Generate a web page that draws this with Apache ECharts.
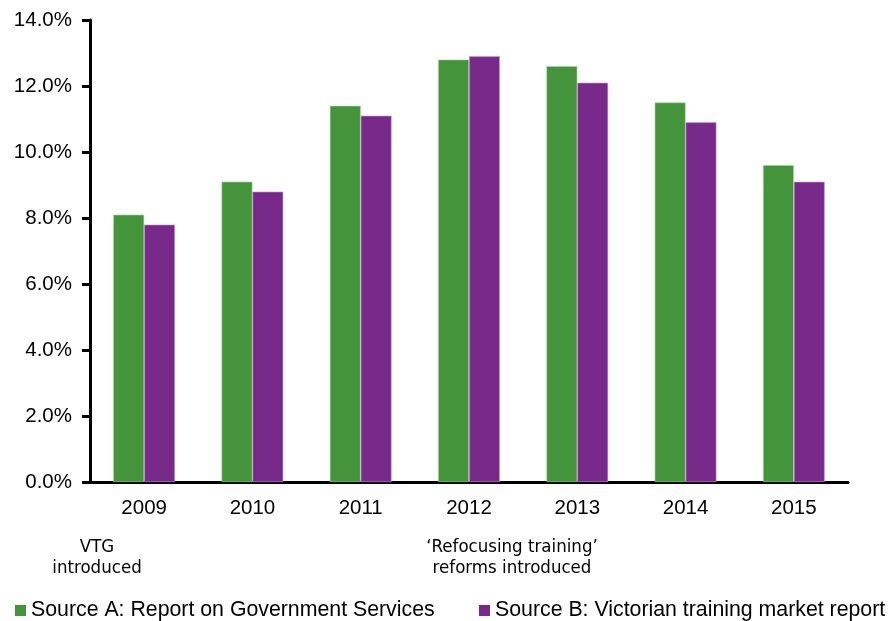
<!DOCTYPE html>
<html>
<head>
<meta charset="utf-8">
<script src="https://cdn.jsdelivr.net/npm/echarts@6/dist/echarts.min.js"></script>
<style>html,body{margin:0;padding:0;background:#fff}#c{width:889px;height:621px}</style>
</head>
<body>
<div id="c"></div>
<script>
const categories = ['2009','2010','2011','2012','2013','2014','2015'];
const sourceA = [8.1, 9.1, 11.4, 12.8, 12.6, 11.5, 9.6];
const sourceB = [7.8, 8.8, 11.1, 12.9, 12.1, 10.9, 9.1];
const seriesNames = ['Source A: Report on Government Services', 'Source B: Victorian training market report'];
const annotations = [
  {text: 'VTG\nintroduced', x: 97},
  {text: '\u2018Refocusing training\u2019\nreforms introduced', x: 512}
];
const legendLefts = [10, 474];

const chart = echarts.init(document.getElementById('c'));
chart.setOption({
  animation: false,
  textStyle: {fontFamily: 'Liberation Sans, Arial, sans-serif'},
  grid: {left: 90, right: 41, top: 20, bottom: 139, containLabel: false},
  legend: seriesNames.map((n, i) => ({
    data: [n],
    left: legendLefts[i], top: 595,
    icon: 'rect', itemWidth: 11, itemHeight: 11,
    itemStyle: {borderWidth: 0},
    textStyle: {fontSize: 21.3, color: '#000', fontFamily: 'Liberation Sans, Arial, sans-serif'}
  })),
  xAxis: {
    type: 'category', data: categories,
    axisLine: {lineStyle: {color: '#000', width: 3}},
    axisTick: {show: false},
    axisLabel: {fontSize: 20.5, color: '#000', margin: 16}
  },
  yAxis: {
    type: 'value', min: 0, max: 14, interval: 2,
    splitLine: {show: false},
    axisLine: {show: true, lineStyle: {color: '#000', width: 3}},
    axisTick: {show: true, length: 8, lineStyle: {color: '#000', width: 3}},
    axisLabel: {fontSize: 20.5, color: '#000', margin: 18, formatter: v => v.toFixed(1) + '%'}
  },
  series: [
    {name: seriesNames[0], type: 'bar', data: sourceA, barWidth: '28.5%', barGap: '0%',
     itemStyle: {color: '#43943a', borderColor: '#a9d3a3', borderWidth: 0.6}},
    {name: seriesNames[1], type: 'bar', data: sourceB, barWidth: '28.5%', barGap: '0%',
     itemStyle: {color: '#772a8a', borderColor: '#c9a3d3', borderWidth: 0.6}}
  ],
  graphic: annotations.map(a => ({
    type: 'text', x: a.x, y: 537,
    style: {text: a.text, x: 0, y: 0, align: 'center', textAlign: 'center', fontSize: 18.5, lineHeight: 21,
            fontFamily: 'DejaVu Sans Condensed, DejaVu Sans, sans-serif', fill: '#000'}
  }))
});
</script>
</body>
</html>
